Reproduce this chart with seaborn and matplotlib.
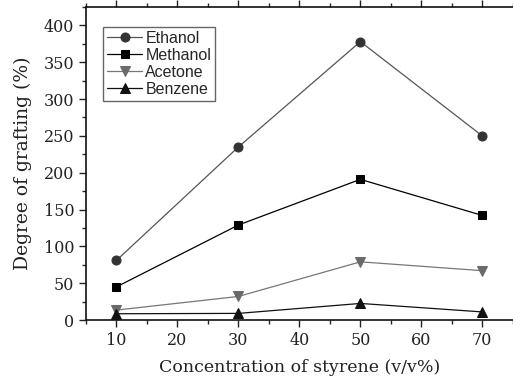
import pandas as pd
import matplotlib
matplotlib.use("Agg")
import matplotlib.pyplot as plt
import seaborn as sns
from matplotlib.ticker import MultipleLocator

# data
conc = [10, 30, 50, 70]
ethanol = [81, 235, 378, 250]
methanol = [45, 129, 191, 142]
acetone = [13.5, 32, 79, 67]
benzene = [8.5, 9, 22.5, 11]

solvents = ["Ethanol", "Methanol", "Acetone", "Benzene"]
series = [ethanol, methanol, acetone, benzene]

rows = []
for name, vals in zip(solvents, series):
    for c, v in zip(conc, vals):
        rows.append({"conc": c, "graft": v, "solvent": name})
df = pd.DataFrame(rows)

sns.set_style("ticks")
plt.rcParams["font.family"] = ["DejaVu Serif"]

line_col = {"Ethanol": "#555555", "Methanol": "#000000", "Acetone": "#777777", "Benzene": "#111111"}
mark_col = {"Ethanol": "#333333", "Methanol": "#000000", "Acetone": "#6a6a6a", "Benzene": "#111111"}
markers = {"Ethanol": "o", "Methanol": "s", "Acetone": "v", "Benzene": "^"}
msize = {"Ethanol": 6.5, "Methanol": 6, "Acetone": 7.5, "Benzene": 7.5}

fig = plt.figure(figsize=(5.13, 3.78), dpi=100)
ax = fig.add_axes([0.1676, 0.1534, 0.832, 0.828])

for name in solvents:
    sub = df[df["solvent"] == name]
    sns.lineplot(data=sub, x="conc", y="graft", ax=ax, color=line_col[name],
                 linewidth=0.9, marker=markers[name], markersize=msize[name],
                 markerfacecolor=mark_col[name], markeredgecolor=mark_col[name],
                 label=name)

ax.set_xlim(5, 75)
ax.set_ylim(0, 425)
ax.xaxis.set_major_locator(MultipleLocator(10))
ax.xaxis.set_minor_locator(MultipleLocator(5))
ax.yaxis.set_major_locator(MultipleLocator(50))
ax.yaxis.set_minor_locator(MultipleLocator(25))
ax.tick_params(which="major", direction="out", length=5, width=1, labelsize=11.5,
               colors="#222222")
ax.tick_params(which="minor", direction="out", length=3, width=1)
ax.tick_params(axis="x", which="both", top=True)
ax.spines["right"].set_visible(False)
for s in ax.spines.values():
    s.set_linewidth(1.2)
    s.set_color("#111111")

ax.set_xlabel("Concentration of styrene (v/v%)", fontsize=12.5, color="#222222", labelpad=7)
ax.set_ylabel("Degree of grafting (%)", fontsize=13.5, color="#222222", labelpad=8)

leg = ax.legend(loc="upper left", bbox_to_anchor=(0.04, 0.936), frameon=True,
                fancybox=False, edgecolor="#666666", framealpha=1,
                prop={"family": "Liberation Sans", "size": 11.5},
                handlelength=2.2, handletextpad=0.2, labelspacing=0.12,
                borderpad=0.25, borderaxespad=0)
leg.get_frame().set_linewidth(1.0)

fig.savefig("out.png", dpi=100)
